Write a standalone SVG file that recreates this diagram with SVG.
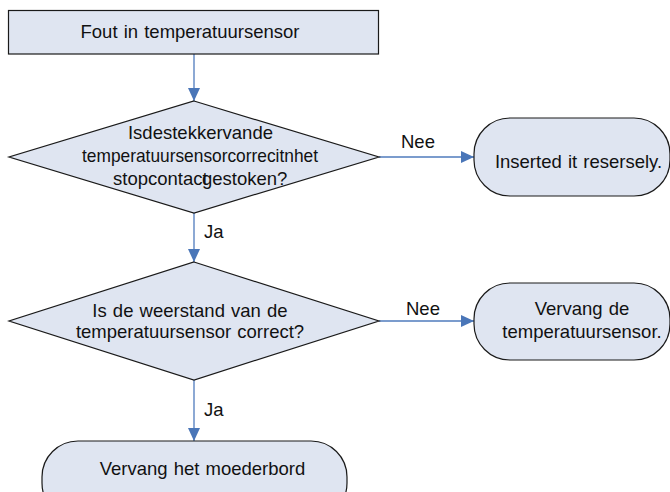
<svg xmlns="http://www.w3.org/2000/svg" width="670" height="492" viewBox="0 0 670 492">
<defs>
<style>
.shape{fill:#dfe5f1;stroke:#1a1a1a;stroke-width:1.2}
.t{font-family:"Liberation Sans",Arial,sans-serif;font-size:18.5px;fill:#111;text-anchor:middle;word-spacing:1px}
.l{font-family:"Liberation Sans",Arial,sans-serif;font-size:18.5px;fill:#111}
.c{fill:none;stroke:#4f7bbd;stroke-width:1.3}
</style>
<marker id="arr" markerWidth="13" markerHeight="12" refX="13" refY="6" orient="auto" markerUnits="userSpaceOnUse">
<path d="M0,0 L13,6 L0,12 Z" fill="#4a76b8"/>
</marker>
</defs>
<g id="connectors">
<line class="c" x1="194" y1="54" x2="194" y2="101" marker-end="url(#arr)"/>
<line class="c" x1="379" y1="157" x2="474" y2="157" marker-end="url(#arr)"/>
<line class="c" x1="194" y1="213" x2="194" y2="262" marker-end="url(#arr)"/>
<line class="c" x1="379" y1="321" x2="474" y2="321" marker-end="url(#arr)"/>
<line class="c" x1="194" y1="380" x2="194" y2="441" marker-end="url(#arr)"/>
<text class="l" x="401" y="148">Nee</text>
<text class="l" x="204" y="238">Ja</text>
<text class="l" x="406" y="315">Nee</text>
<text class="l" x="204" y="416">Ja</text>
</g>
<g id="start">
<rect class="shape" x="8.5" y="10.5" width="370" height="43.5"/>
<text class="t" x="190" y="38">Fout in temperatuursensor</text>
</g>
<g id="decision1">
<polygon class="shape" points="194,101 379,157 194,213 9,157"/>
<text class="t" x="200.5" y="139">Isdestekkervande</text>
<text class="t" x="200" y="162" textLength="236" lengthAdjust="spacingAndGlyphs">temperatuursensorcorrecitnhet</text>
<text class="l" x="113" y="185">stopcontact</text>
<text class="l" x="202" y="185">gestoken?</text>
</g>
<g id="end1">
<rect class="shape" x="474" y="118" width="196" height="78" rx="36" ry="36"/>
<text class="t" x="578.5" y="168">Inserted it resersely.</text>
</g>
<g id="decision2">
<polygon class="shape" points="194,262 379,321 194,380 9,321"/>
<text class="t" x="190" y="317">Is de weerstand van de</text>
<text class="t" x="190" y="338">temperatuursensor correct?</text>
</g>
<g id="end2">
<rect class="shape" x="474" y="283" width="196" height="77" rx="36" ry="36"/>
<text class="t" x="582" y="315">Vervang de</text>
<text class="t" x="582" y="338">temperatuursensor.</text>
</g>
<g id="end3">
<rect class="shape" x="42" y="441" width="305" height="78" rx="36" ry="36"/>
<text class="t" x="202.5" y="475">Vervang het moederbord</text>
</g>
</svg>
